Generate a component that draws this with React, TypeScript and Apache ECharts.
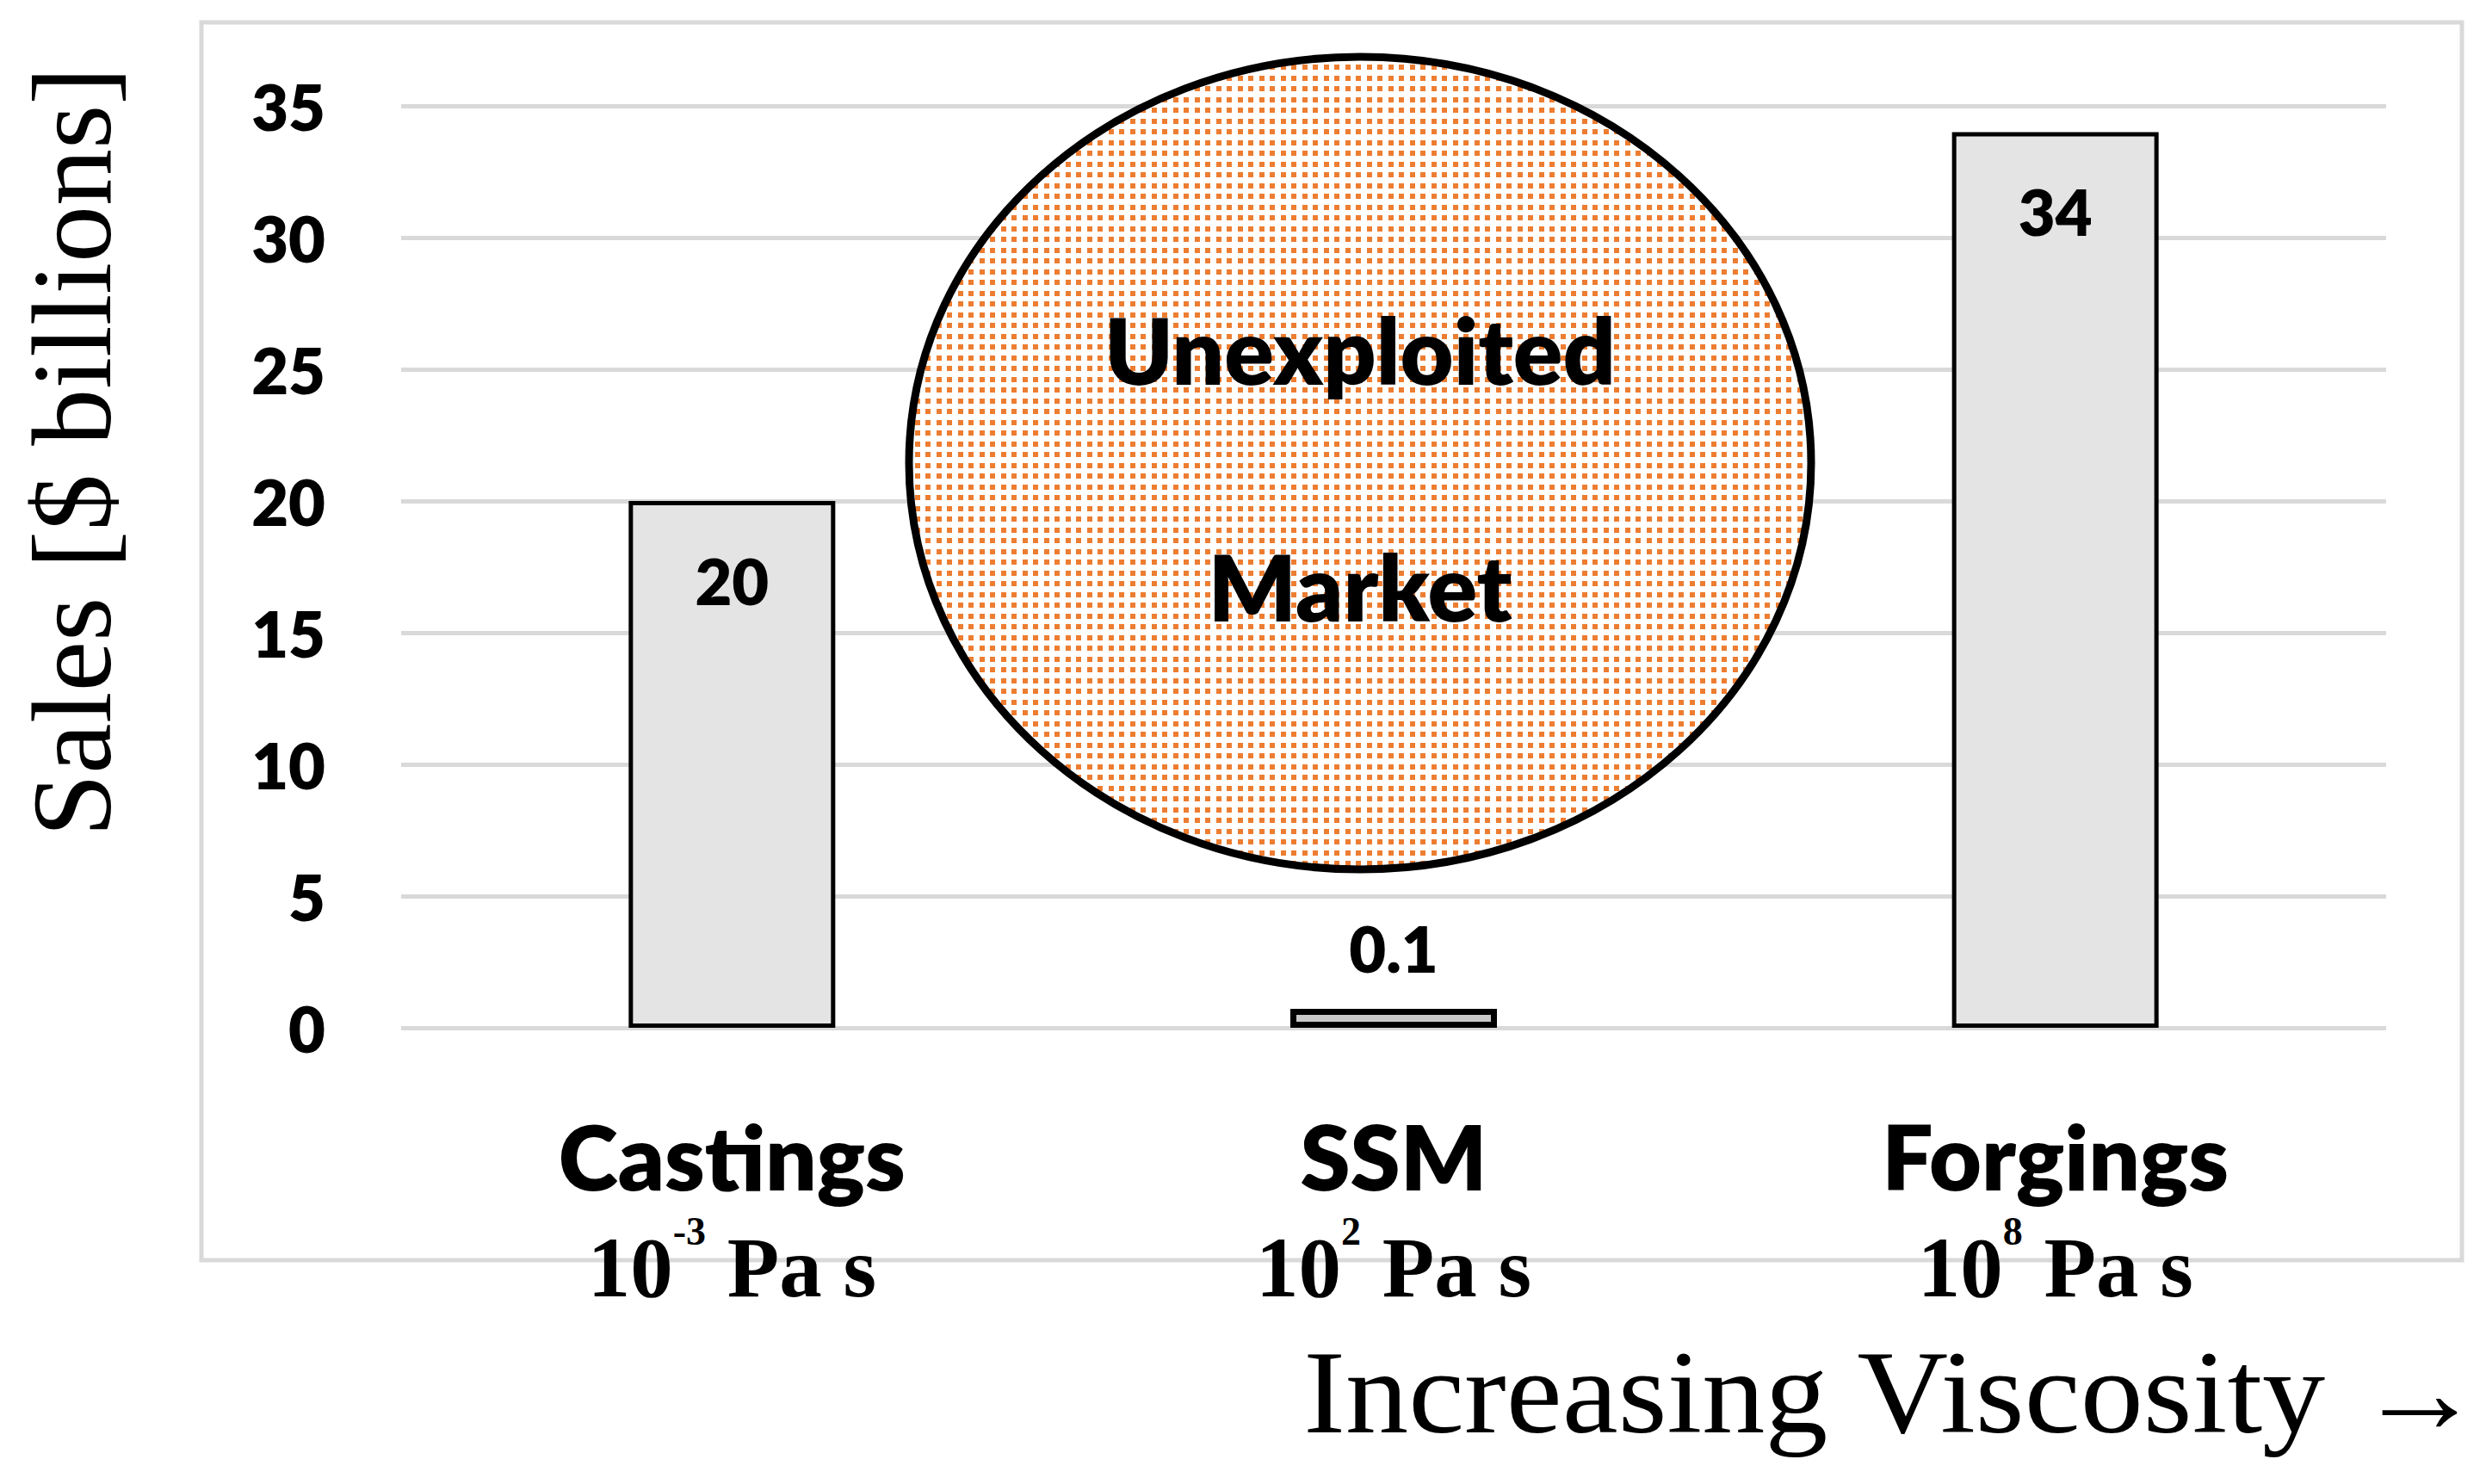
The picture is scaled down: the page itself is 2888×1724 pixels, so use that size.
import React, { useEffect, useRef } from 'react';
import * as echarts from 'echarts';

const categories = ['Castings', 'SSM', 'Forgings'];
const viscosityExponents = ['-3', '2', '8'];
const sales = [20, 0.1, 34];
const yAxisMax = 35;
const yAxisStep = 5;
const calloutLines = ['Unexploited', 'Market'];
const yAxisTitle = 'Sales [$ billions]';
const xAxisTitle = 'Increasing Viscosity \u2192';

export default function App() {
  const ref = useRef<HTMLDivElement>(null);

  useEffect(() => {
    document.body.style.margin = '0';
    const chart = echarts.init(ref.current as HTMLDivElement, null, { renderer: 'svg' });

    const canvas = document.createElement('canvas');
    canvas.width = 25;
    canvas.height = 25;
    const ctx = canvas.getContext('2d') as CanvasRenderingContext2D;
    ctx.fillStyle = '#ffffff';
    ctx.fillRect(0, 0, 25, 25);
    ctx.fillStyle = '#ED7D31';
    for (const px of [0, 13]) for (const py of [0, 13]) ctx.fillRect(px, py, 6, 6);

    const serif = 'Liberation Serif';
    const sans = 'Lato';
    const heavy = 800;

    const option: any = {
      animation: false,
      backgroundColor: '#ffffff',
      grid: { left: 466, right: 116, top: 123, bottom: 530 },
      xAxis: {
        type: 'category',
        data: categories,
        axisLine: { show: false },
        axisTick: { show: false },
        axisLabel: {
          interval: 0,
          margin: 83,
          formatter: (v: string, i: number) =>
            `{b|${v}}\n{s|10}{sup|${viscosityExponents[i]}}{s| Pa s}`,
          rich: {
            b: { fontFamily: sans, fontWeight: heavy, fontSize: 105, lineHeight: 130, color: '#000' },
            s: { fontFamily: serif, fontWeight: 'bold', fontSize: 99, lineHeight: 130, color: '#000' },
            sup: { fontFamily: serif, fontWeight: 'bold', fontSize: 46, lineHeight: 64, verticalAlign: 'top', color: '#000' },
          },
        },
      },
      yAxis: {
        type: 'value',
        min: 0,
        max: yAxisMax,
        interval: yAxisStep,
        axisLine: { show: false },
        axisTick: { show: false },
        axisLabel: { margin: 88, fontFamily: sans, fontWeight: heavy, fontSize: 74, color: '#000' },
        splitLine: { lineStyle: { color: '#d9d9d9', width: 5 } },
      },
      series: [
        {
          type: 'bar',
          barWidth: 240,
          barMinHeight: 22,
          itemStyle: { borderColor: '#000', borderWidth: 5 },
          label: { show: true, fontFamily: sans, fontWeight: heavy, fontSize: 74, color: '#000' },
          data: sales.map((v, i) => ({
            value: v,
            itemStyle: v < 1 ? { color: '#c8c8c8', borderWidth: 7 } : { color: '#e4e4e4' },
            label: { position: v < 1 ? 'top' : 'insideTop', distance: v < 1 ? 34 : 55 },
          })),
        },
      ],
      graphic: [
        {
          type: 'rect',
          z: -10,
          shape: { x: 234, y: 26, width: 2626, height: 1438 },
          style: { fill: 'none', stroke: '#d9d9d9', lineWidth: 5 },
        },
        {
          type: 'ellipse',
          z: 10,
          shape: { cx: 1580, cy: 538, rx: 524, ry: 472 },
          style: {
            fill: { image: canvas, repeat: 'repeat', imageWidth: 25, imageHeight: 25 },
            stroke: '#000',
            lineWidth: 9,
          },
        },
        ...calloutLines.map((t, i) => ({
          type: 'text',
          z: 11,
          x: 1580,
          y: i === 0 ? 405 : 680,
          style: {
            text: t,
            fontFamily: sans,
            fontWeight: heavy,
            fontSize: 107,
            fill: '#000',
            align: 'center',
            verticalAlign: 'middle',
            textAlign: 'center',
            textVerticalAlign: 'middle',
          },
        })),
        {
          type: 'text',
          x: 83,
          y: 525,
          rotation: Math.PI / 2,
          style: {
            text: yAxisTitle,
            fontFamily: serif,
            fontSize: 132,
            fill: '#000',
            align: 'center',
            verticalAlign: 'middle',
            textAlign: 'center',
            textVerticalAlign: 'middle',
          },
        },
        {
          type: 'text',
          x: 2884,
          y: 1617,
          scaleX: 1.06,
          style: {
            text: xAxisTitle,
            fontFamily: serif,
            fontSize: 138,
            fill: '#000',
            align: 'right',
            verticalAlign: 'middle',
            textAlign: 'right',
            textVerticalAlign: 'middle',
          },
        },
      ],
    };

    chart.setOption(option);
    return () => chart.dispose();
  }, []);

  return <div ref={ref} style={{ width: 2888, height: 1724 }} />;
}
